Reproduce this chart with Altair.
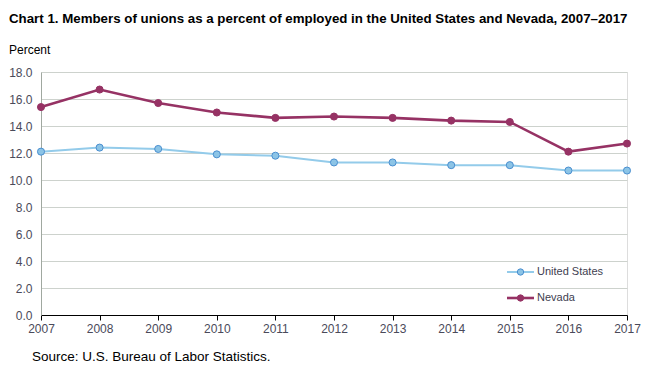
import altair as alt
import pandas as pd

years = list(range(2007, 2018))
us_values = [12.1, 12.4, 12.3, 11.9, 11.8, 11.3, 11.3, 11.1, 11.1, 10.7, 10.7]
nv_values = [15.4, 16.7, 15.7, 15.0, 14.6, 14.7, 14.6, 14.4, 14.3, 12.1, 12.7]
series_names = ["United States", "Nevada"]
title_text = "Chart 1. Members of unions as a percent of employed in the United  States and Nevada, 2007\u20132017"
y_label = "Percent"
source_text = "Source: U.S. Bureau  of Labor  Statistics."

df = pd.DataFrame({
    "year": years * 2,
    "value": us_values + nv_values,
    "series": [series_names[0]] * len(years) + [series_names[1]] * len(years),
})

FONT = "Liberation Sans"
W, H = 586, 243
LINE_COLORS = ["#93cbea", "#963264"]
PT_FILL = ["#8cc4e6", "#963264"]
PT_STROKE = ["#4a8fd0", "#963264"]
LINE_W = [2, 2.6]

x = alt.X(
    "year:Q",
    scale=alt.Scale(domain=[2007, 2017], nice=False, zero=False),
    axis=alt.Axis(
        title=None, values=years, format="d", grid=False,
        domainColor="#000000", domainWidth=1.2, tickColor="#000000", tickSize=5,
        labelFont=FONT, labelFontSize=12, labelColor="#4a4a5a", labelPadding=3,
        labelFlush=False,
    ),
)
y = alt.Y(
    "value:Q",
    scale=alt.Scale(domain=[0, 18], nice=False),
    axis=alt.Axis(
        title=None, values=[0, 2, 4, 6, 8, 10, 12, 14, 16, 18], format=".1f",
        grid=True, gridColor="#cdd2cd", gridWidth=1,
        domainColor="#a0a8a0", ticks=False, labelPadding=9,
        labelFont=FONT, labelFontSize=12, labelColor="#4a4a5a",
    ),
)

base = alt.Chart(df)

layers = []
for i, name in enumerate(series_names):
    sub = base.transform_filter(alt.datum.series == name)
    layers.append(sub.mark_line(strokeWidth=LINE_W[i], color=LINE_COLORS[i]).encode(x=x, y=y))
for i, name in enumerate(series_names):
    sub = base.transform_filter(alt.datum.series == name)
    layers.append(sub.mark_point(
        filled=True, fill=PT_FILL[i], stroke=PT_STROKE[i], strokeWidth=1, size=50, opacity=1
    ).encode(x=x, y=y))

# legend (inside plot, bottom right)
leg_df = pd.DataFrame({"series": series_names})
leg_rows = [200, 226]
for i, name in enumerate(series_names):
    lsub = alt.Chart(leg_df).transform_filter(alt.datum.series == name)
    layers.append(lsub.mark_rule(strokeWidth=LINE_W[i], color=LINE_COLORS[i]).encode(
        x=alt.value(466), x2=alt.value(493), y=alt.value(leg_rows[i])))
    layers.append(lsub.mark_point(
        filled=True, fill=PT_FILL[i], stroke=PT_STROKE[i], strokeWidth=1, size=40, opacity=1
    ).encode(x=alt.value(479.5), y=alt.value(leg_rows[i])))
    layers.append(lsub.mark_text(
        align="left", baseline="middle", font=FONT, fontSize=11, color="#404050"
    ).encode(x=alt.value(496), y=alt.value(leg_rows[i]), text="series:N"))

def label(txt, px, py, size, weight="normal", colr="#000000"):
    return alt.Chart(pd.DataFrame({"t": [txt]})).mark_text(
        align="left", baseline="alphabetic", font=FONT, fontSize=size,
        fontWeight=weight, color=colr,
    ).encode(x=alt.value(px), y=alt.value(py), text="t:N")

layers.append(label(title_text, -32, -49, 13.3, "bold"))
layers.append(label(y_label, -32, -18, 12))
layers.append(label(source_text, -9, 289, 13.5))

chart = alt.layer(*layers).properties(
    width=W, height=H,
    autosize=alt.AutoSizeParams(type="none"),
    padding={"left": 33, "top": 64, "right": 15, "bottom": 61},
).configure_view(
    stroke="#a0a8a0", strokeWidth=1
).configure(background="#ffffff")

chart.save("out.html", embed_options={"renderer": "svg", "actions": False})
